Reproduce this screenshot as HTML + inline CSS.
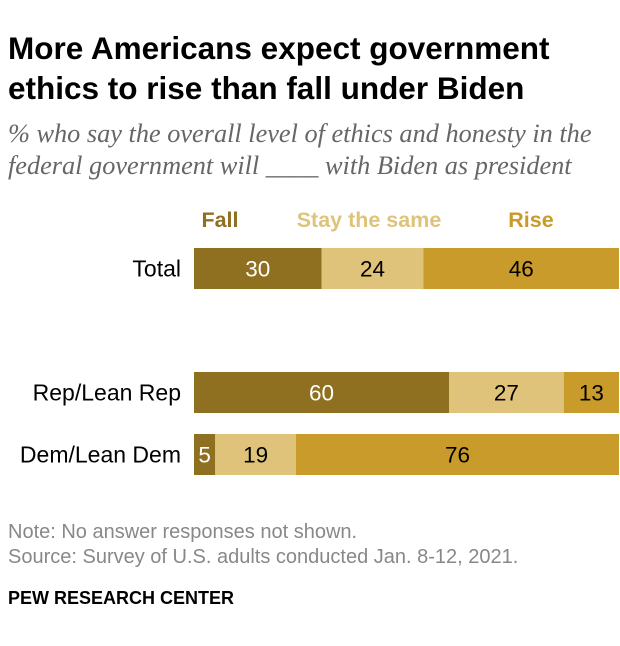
<!DOCTYPE html>
<html><head><meta charset="utf-8"><style>
body{margin:0;width:620px;height:646px;background:#fff;font-family:"Liberation Sans",sans-serif;position:relative;overflow:hidden}
.t{position:absolute;white-space:nowrap}
</style></head><body>
<div class="t" style="left:8px;top:28px;font-size:31.5px;font-weight:bold;line-height:40px;color:#000">More Americans expect government<br>ethics to rise than fall under Biden</div>
<div class="t" style="left:8px;top:118px;font-family:'Liberation Serif',serif;font-style:italic;font-size:26.3px;line-height:32px;color:#666">% who say the overall level of ethics and honesty in the<br>federal government will ____ with Biden as president</div>
<svg id="chart" width="620" height="646" style="position:absolute;left:0;top:0"></svg>
<div class="t" style="left:8px;top:521px;font-size:20px;color:#888">Note: No answer responses not shown.</div>
<div class="t" style="left:8px;top:546px;font-size:20px;color:#888">Source: Survey of U.S. adults conducted Jan. 8-12, 2021.</div>
<div class="t" style="left:8px;top:588px;font-size:18px;font-weight:bold;color:#000">PEW RESEARCH CENTER</div>
<script>
const categories=["Total","Rep/Lean Rep","Dem/Lean Dem"];
const fall=[30,60,5];
const same=[24,27,19];
const rise=[46,13,76];
const seriesNames=["Fall","Stay the same","Rise"];
const colors=["#8f7020","#dfc37a","#c99b2b"];
const textColors=["#fff","#000","#000"];
const legendPos=[220,369,531];
const rowY=[248,372,434];
const x0=194,w=425,bh=41;
const sx=v=>v/100*w;
const svg=document.getElementById('chart');
const NS="http://www.w3.org/2000/svg";
function mk(tag,a){const e=document.createElementNS(NS,tag);for(const k in a)e.setAttribute(k,a[k]);svg.appendChild(e);return e;}
const series=[fall,same,rise];
categories.forEach((c,i)=>{
  const lab=mk('text',{x:181,y:rowY[i]+bh/2+8,'text-anchor':'end','font-size':23,fill:'#000'});
  lab.textContent=c;
  
  
  let acc=0;
  series.forEach((s,j)=>{
    const r=mk('rect',{x:x0+sx(acc),y:rowY[i],width:sx(s[i]),height:bh,fill:colors[j]});
    
    
    const t=mk('text',{x:x0+sx(acc+s[i]/2),y:rowY[i]+bh/2+8,'text-anchor':'middle','font-size':22.5,fill:textColors[j]});
    t.textContent=s[i];
    
    
    acc+=s[i];
  });
});
seriesNames.forEach((n,j)=>{
  const t=mk('text',{x:legendPos[j],y:227,'text-anchor':'middle','font-size':21.5,'font-weight':'bold',fill:colors[j]});
  t.textContent=n;
  
  
});
</script>
</body></html>
